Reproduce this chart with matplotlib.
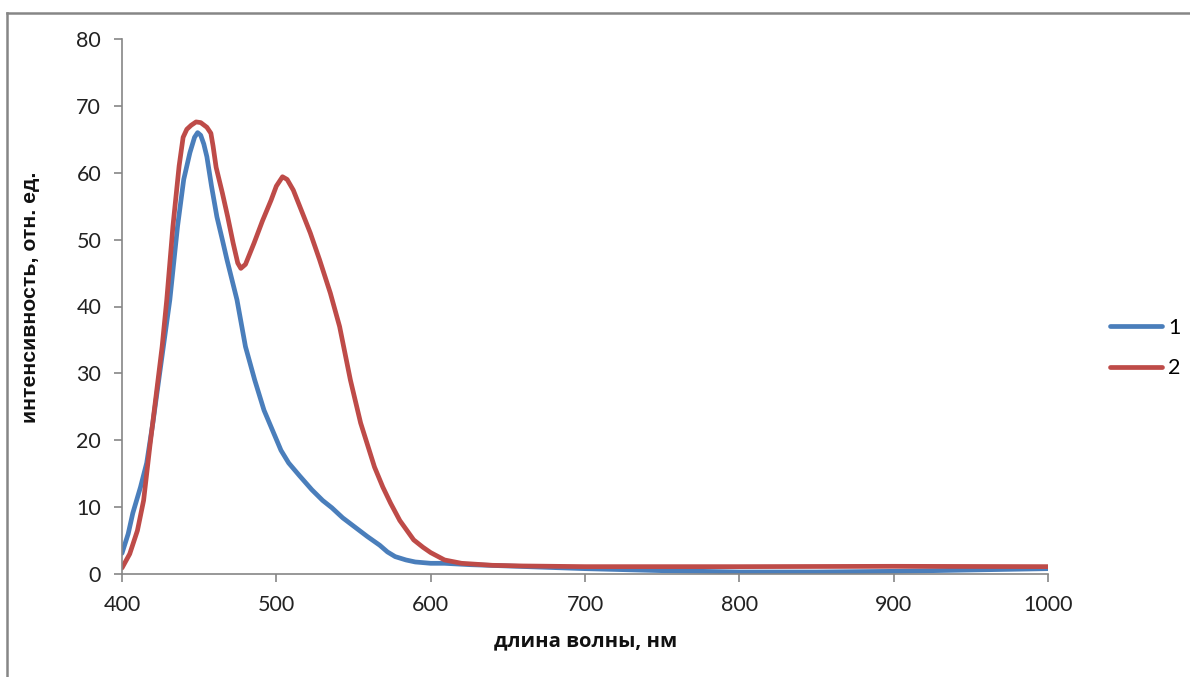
import matplotlib
matplotlib.use("Agg")
import matplotlib.pyplot as plt
from matplotlib.lines import Line2D

# Series 1 (blue)
wl1 = [400, 404, 407, 412, 416, 420, 425, 431, 436, 440, 444, 447, 449, 451, 453, 455, 458,
       461.5, 465, 468, 474.5, 480, 486, 492, 497.5, 503, 508, 515, 523, 530, 536,
       543, 551, 559, 567, 572, 577, 584, 590, 600, 609, 625, 650, 700, 750, 800,
       850, 900, 950, 1000]
int1 = [3.1, 6.0, 9.1, 13.0, 16.6, 22.6, 31.0, 41.0, 52.0, 59.0, 63.0, 65.3, 66.0, 65.6,
        64.3, 62.4, 58.0, 53.4, 50.0, 47.0, 41.0, 34.0, 29.0, 24.5, 21.5, 18.5, 16.6, 14.7,
        12.6, 11.0, 9.9, 8.4, 7.0, 5.6, 4.3, 3.3, 2.6, 2.1, 1.8, 1.6, 1.6, 1.4, 1.2,
        0.8, 0.5, 0.3, 0.3, 0.4, 0.6, 0.8]

# Series 2 (red)
wl2 = [400, 405, 410, 414, 418, 422, 426, 429, 433, 437, 439.6, 442, 444.8, 448, 451,
       455, 457.6, 459, 461, 465, 468.5, 472, 475, 477, 480, 485.6, 491, 496.6, 500,
       504, 507, 511, 516, 522, 528, 535, 541, 548, 554.6, 563.6, 569, 574, 580, 589,
       595, 600, 609, 620, 640, 660, 700, 800, 900, 1000]
int2 = [0.9, 3.0, 6.5, 11.0, 19.0, 26.5, 34.0, 41.0, 52.0, 61.0, 65.3, 66.5, 67.1,
        67.6, 67.5, 66.8, 65.9, 64.0, 60.8, 57.0, 53.4, 49.5, 46.5, 45.7, 46.3, 49.5,
        52.8, 55.9, 58.0, 59.4, 59.0, 57.4, 54.5, 51.0, 47.0, 42.0, 37.0, 29.0, 22.6,
        16.0, 13.0, 10.6, 8.0, 5.1, 4.0, 3.2, 2.1, 1.6, 1.3, 1.2, 1.1, 1.1, 1.15, 1.1]

series_labels = ["1", "2"]
xticks = [400, 500, 600, 700, 800, 900, 1000]
yticks = [0, 10, 20, 30, 40, 50, 60, 70, 80]
xlabel = "длина волны, нм"
ylabel = "интенсивность, отн. ед."

BLUE = "#4A7EBB"
RED = "#BE4B48"
GRAY = "#868686"

fig = plt.figure(figsize=(11.9, 6.77), dpi=100)
ax = fig.add_axes([122/1190, 1-574/677, (1048-122)/1190, (574-39)/677])

ax.plot(wl1, int1, color=BLUE, lw=3.4, label=series_labels[0],
        solid_joinstyle="round", solid_capstyle="round")
ax.plot(wl2, int2, color=RED, lw=3.4, label=series_labels[1],
        solid_joinstyle="round", solid_capstyle="round")

ax.set_xlim(400, 1000)
ax.set_ylim(0, 80)
ax.set_xticks(xticks)
ax.set_yticks(yticks)
for s in ["top", "right"]:
    ax.spines[s].set_visible(False)
for s in ["left", "bottom"]:
    ax.spines[s].set_color(GRAY)
    ax.spines[s].set_linewidth(1.2)
ax.tick_params(axis="both", direction="out", length=6, width=1.2, color=GRAY,
               labelsize=15.5, labelcolor="#222222")
ax.tick_params(axis="y", pad=9)
ax.tick_params(axis="x", pad=9)
for lbl in ax.get_xticklabels() + ax.get_yticklabels():
    lbl.set_fontfamily(["Lato", "DejaVu Sans"])

fig.text(586/1190, 1-641/677, xlabel, ha="center", va="center",
         fontsize=14.6, fontweight="bold", family=["Open Sans", "DejaVu Sans"], color="#111111")
fig.text(31/1190, 1-297/677, ylabel, ha="center", va="center", rotation=90,
         fontsize=15.3, fontweight="bold", family=["Liberation Sans", "DejaVu Sans"], color="#111111")

leg = fig.legend(loc="center left", bbox_to_anchor=(1110/1190, 1-348/677), frameon=False,
                 borderpad=0, borderaxespad=0, handlelength=2.4, handletextpad=0.3,
                 labelspacing=0.95,
                 prop={"family": ["Lato", "DejaVu Sans"], "size": 15.5})

# outer chart border (top and left visible)
fig.add_artist(Line2D([7/1190, 7/1190], [0, 1-13/677], transform=fig.transFigure,
                      color=GRAY, lw=1.8))
fig.add_artist(Line2D([7/1190, 1], [1-13/677, 1-13/677], transform=fig.transFigure,
                      color=GRAY, lw=1.8))

fig.savefig("out.png", dpi=100)
